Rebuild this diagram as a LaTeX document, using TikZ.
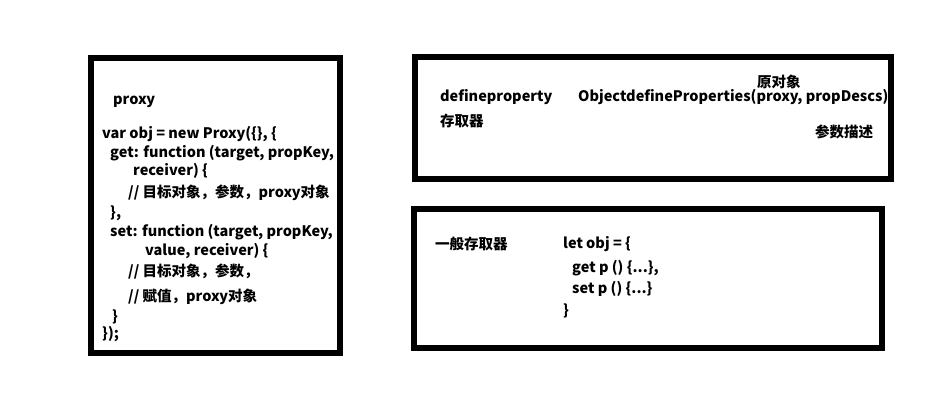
\documentclass[tikz,border=0pt]{standalone}
\usepackage{fontspec}
\setmainfont{Noto Sans CJK SC}
\usepackage{tikz}

\begin{document}
\begin{tikzpicture}[x=1pt,y=-1pt,
    frame/.style={line width=6pt},
    code/.style={anchor=west,inner sep=0pt,font=\bfseries\fontsize{14.5}{17}\selectfont}]
    \useasboundingbox (0,0) rectangle (931,417);

    % Frames
    \draw[frame] (90.5,58) rectangle (339.5,353);
    \draw[frame] (415,57.5) rectangle (891,179);
    \draw[frame] (413.5,209) rectangle (881.5,348);

    % Proxy
    \node[code] (px) at (113,102) {proxy};
    \node[code] (p1) at (102,134) {var obj = new Proxy(\{\}, \{};
    \node[code] (p2) at (110,153) {get: function (target, propKey,};
    \node[code] (p3) at (133,171) {receiver) \{};
    \node[code] (p4) at (128,193) {// 目标对象，参数，proxy对象};
    \node[code] (p5) at (110,213) {\},};
    \node[code] (p6) at (110,232) {set: function (target, propKey,};
    \node[code] (p7) at (145,251) {value, receiver) \{};
    \node[code] (p8) at (128,272) {// 目标对象，参数，};
    \node[code] (p9) at (128,297) {// 赋值，proxy对象};
    \node[code] (p10) at (112,317) {\}};
    \node[code] (p11) at (102,334) {\});};

    % defineProperties
    \node[code] (dp) at (440,97) {defineproperty};
    \node[code] (odp) at (578,97) {ObjectdefineProperties(proxy, propDescs)};
    \node[code] (yd) at (757,82) {原对象};
    \node[code] (cq) at (440,121) {存取器};
    \node[code] (cs) at (815,132) {参数描述};

    % getter / setter
    \node[code] (yb) at (435,244) {一般存取器};
    \node[code] (l1) at (563,244) {let obj = \{};
    \node[code] (l2) at (572,268) {get p () \{...\},};
    \node[code] (l3) at (572,289) {set p () \{...\}};
    \node[code] (l4) at (563,311) {\}};
\end{tikzpicture}
\end{document}
